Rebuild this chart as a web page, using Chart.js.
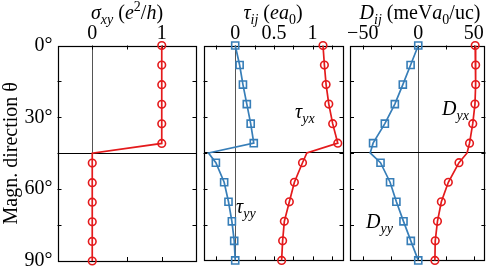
<!DOCTYPE html>
<html>
<head>
<meta charset="utf-8">
<script src="https://cdn.jsdelivr.net/npm/chart.js@4.4.1/dist/chart.umd.min.js"></script>
<style>
  body { margin: 0; background: #fff; }
  #wrap { position: relative; width: 492px; height: 267px; overflow: hidden; }
  canvas { position: absolute; left: 0; top: 0; }
  .t { position: absolute; font-family: 'Liberation Serif', serif; font-size: 20px; color: #000; white-space: nowrap; line-height: 1; }
  .t i { font-style: italic; }
  .t sub, .t sup { font-size: 14px; line-height: 0; }
</style>
</head>
<body>
<div id="wrap">
  <canvas id="c1" width="492" height="267"></canvas>
  <canvas id="c2" width="492" height="267"></canvas>
  <canvas id="c3" width="492" height="267"></canvas>
  <div class="t" style="left:57px;width:140px;text-align:center;top:1.5px;"><i>σ<sub>xy</sub></i> (<i>e</i><sup>2</sup>/<i>h</i>)</div>
  <div class="t" style="left:203px;width:140px;text-align:center;top:1.5px;"><i>τ<sub>ij</sub></i> (<i>ea</i><sub>0</sub>)</div>
  <div class="t" style="left:346px;width:148px;text-align:center;top:1.5px;"><i>D<sub>ij</sub></i> (meV<i>a</i><sub>0</sub>/uc)</div>
  <div class="t" style="left:295px;top:101px;"><i>τ<sub>yx</sub></i></div>
  <div class="t" style="left:236px;top:196px;"><i>τ<sub>yy</sub></i></div>
  <div class="t" style="left:442px;top:98px;"><i>D<sub>yx</sub></i></div>
  <div class="t" style="left:366px;top:211px;"><i>D<sub>yy</sub></i></div>
</div>
<script>
// magnetization angle (deg); the 45 deg entry is the jump, drawn without a marker
var theta     = [0, 8.18, 16.36, 24.55, 32.73, 40.91, 45, 49.09, 57.27, 65.45, 73.64, 81.82, 90];
var hasMarker = [1, 1, 1, 1, 1, 1, 0, 1, 1, 1, 1, 1, 1];

var sigmaXY = [1, 1, 1, 1, 1, 1, 0, 0, 0, 0, 0, 0, 0];
var tauYX   = [1.135, 1.153, 1.175, 1.21, 1.26, 1.326, 0.926, 0.87, 0.765, 0.70, 0.635, 0.613, 0.60];
var tauYY   = [0, 0.057, 0.10, 0.15, 0.20, 0.24, -0.345, -0.25, -0.143, -0.087, -0.043, -0.013, 0];
var dYX     = [51.3, 51.7, 51.7, 51.1, 49.1, 46.2, 44.0, 36.7, 27.1, 20.8, 17.3, 15.3, 15.0];
var dYY     = [0, -6.9, -13.9, -21.1, -30.1, -40.7, -43.3, -34.0, -25.4, -19.7, -13.3, -6.7, 0];

var thetaTicks = [0, 30, 60, 90];
var sigmaTicks = [0, 1];
var tauTicks   = [0, 0.5, 1];
var dTicks     = [-50, 0, 50];

var RED = '#e41a1c';
var BLUE = '#377eb8';
var FONT = "'Liberation Serif', serif";

function pts(vals) {
  return vals.map(function (v, i) { return { x: v, y: theta[i] }; });
}

function series(vals, color, style) {
  return {
    data: pts(vals),
    showLine: true,
    borderColor: color,
    backgroundColor: 'rgba(0,0,0,0)',
    borderWidth: 1.7,
    pointStyle: style,
    pointRadius: hasMarker.map(function (m) { return m ? (style == 'rect' ? 5 : 3.8) : 0; }),
    pointBorderWidth: 1.6,
    pointBorderColor: color,
    pointBackgroundColor: 'rgba(0,0,0,0)',
    clip: false
  };
}

// frame + inward minor ticks like the original figure
var boxTicks = {
  id: 'boxTicks',
  beforeDatasetsDraw: function (chart) {
    var a = chart.chartArea, ctx = chart.ctx;
    var xs = chart.scales.x, ys = chart.scales.y;
    var len = 4;
    ctx.save();
    ctx.strokeStyle = '#000';
    ctx.lineWidth = 1;
    ctx.beginPath();
    xs.ticks.forEach(function (t) {
      var px = Math.round(xs.getPixelForValue(t.value)) + 0.5;
      if (px <= a.left + 2 || px >= a.right - 2) return;
      ctx.moveTo(px, a.top); ctx.lineTo(px, a.top + len);
      ctx.moveTo(px, a.bottom); ctx.lineTo(px, a.bottom - len);
    });
    ys.ticks.forEach(function (t) {
      var py = Math.round(ys.getPixelForValue(t.value)) + 0.5;
      if (py <= a.top + 2 || py >= a.bottom - 2) return;
      ctx.moveTo(a.left, py); ctx.lineTo(a.left + len, py);
      ctx.moveTo(a.right, py); ctx.lineTo(a.right - len, py);
    });
    ctx.stroke();
    ctx.lineWidth = 1.2;
    ctx.strokeRect(Math.round(a.left) + 0.5, Math.round(a.top) + 0.5,
      Math.round(a.right - a.left) - 1, Math.round(a.bottom - a.top) - 1);
    ctx.restore();
  }
};

function noPad(s) {
  s.paddingTop = 0; s.paddingBottom = 0; s.paddingLeft = 0; s.paddingRight = 0;
}

function makePanel(id, cfg) {
  var first = cfg.first;
  new Chart(document.getElementById(id), {
    type: 'scatter',
    data: { datasets: cfg.datasets },
    options: {
      responsive: false,
      animation: false,
      events: [],
      layout: { padding: { left: cfg.left, right: cfg.right, top: 0, bottom: 6 } },
      plugins: { legend: { display: false }, tooltip: { enabled: false } },
      scales: {
        x: {
          type: 'linear',
          position: 'top',
          min: cfg.min, max: cfg.max,
          border: { display: false },
          grid: {
            drawTicks: false,
            lineWidth: 1,
            color: function (c) { return c.tick && c.tick.value === 0 ? '#555' : 'rgba(0,0,0,0)'; }
          },
          ticks: {
            stepSize: cfg.step,
            includeBounds: false,
            autoSkip: false,
            maxRotation: 0,
            padding: 0,
            color: '#000',
            font: { family: FONT, size: 20 },
            callback: function (v) {
              return cfg.labels.indexOf(v) >= 0 ? String(v).replace('-', '\u2212') : '';
            }
          },
          afterFit: function (s) { s.height = 45.5; noPad(s); }
        },
        y: {
          type: 'linear',
          reverse: true,
          min: 0, max: 90,
          border: { display: false },
          grid: {
            drawTicks: false,
            lineWidth: 1,
            color: function (c) { return c.tick && c.tick.value === 45 ? '#000' : 'rgba(0,0,0,0)'; }
          },
          title: {
            display: first,
            text: 'Magn. direction \u03b8',
            color: '#000',
            font: { family: FONT, size: 20 },
            padding: { top: 0, bottom: 0 }
          },
          ticks: {
            display: first,
            stepSize: 15,
            autoSkip: false,
            padding: 5,
            color: '#000',
            font: { family: FONT, size: 20 },
            callback: function (v) { return thetaTicks.indexOf(v) >= 0 ? v + '\u00b0' : ''; }
          },
          afterFit: function (s) { s.width = first ? 57.5 : 0; noPad(s); }
        }
      }
    },
    plugins: [boxTicks]
  });
}

makePanel('c1', {
  first: true, left: 0, right: 295.5, min: -0.5, max: 1.5, step: 0.5, labels: sigmaTicks,
  datasets: [series(sigmaXY, RED, 'circle')]
});
makePanel('c2', {
  first: false, left: 203.5, right: 148.5, min: -0.41, max: 1.4, step: 0.25, labels: tauTicks,
  datasets: [series(tauYY, BLUE, 'rect'), series(tauYX, RED, 'circle')]
});
makePanel('c3', {
  first: false, left: 350, right: 1, min: -61.5, max: 60.5, step: 25, labels: dTicks,
  datasets: [series(dYY, BLUE, 'rect'), series(dYX, RED, 'circle')]
});
</script>
</body>
</html>
